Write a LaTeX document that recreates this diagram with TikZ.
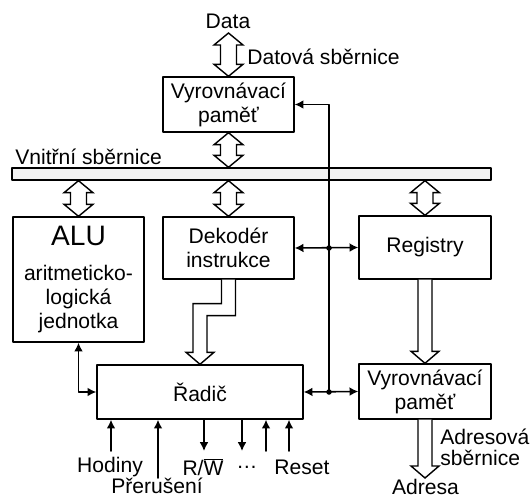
\documentclass[tikz,border=0pt]{standalone}
\usepackage{fontspec}
\setmainfont{Liberation Sans}
\usetikzlibrary{arrows.meta,calc}

\tikzset{
  blok/.style={draw,line width=0.8pt,align=center,inner sep=0pt},
  fat/.style={draw,line width=0.8pt,fill=white,line join=miter},
  sig/.style={line width=0.9pt},
  popis/.style={inner sep=0pt},
  >={Latex[length=5pt,width=5pt]}
}

% double fat arrow (bus), from upper point to lower point
\newcommand\dblfat[2]{%
  \draw[fat] let \p1=(#1), \p2=(#2) in
    (\x1,\y1) -- (\x1+0.29cm,\y1-0.24cm) -- (\x1+0.16cm,\y1-0.24cm)
    -- (\x1+0.16cm,\y2+0.24cm) -- (\x1+0.29cm,\y2+0.24cm) -- (\x1,\y2)
    -- (\x1-0.29cm,\y2+0.24cm) -- (\x1-0.16cm,\y2+0.24cm)
    -- (\x1-0.16cm,\y1-0.24cm) -- (\x1-0.29cm,\y1-0.24cm) -- cycle;}

% single fat arrow pointing down
\newcommand\downfat[2]{%
  \draw[fat] let \p1=(#1), \p2=(#2) in
    (\x1-0.14cm,\y1) -- (\x1-0.14cm,\y2+0.24cm) -- (\x1-0.28cm,\y2+0.24cm)
    -- (\x1,\y2) -- (\x1+0.28cm,\y2+0.24cm) -- (\x1+0.14cm,\y2+0.24cm)
    -- (\x1+0.14cm,\y1);}

\begin{document}
\begin{tikzpicture}[x=0.02cm,y=-0.02cm,line cap=round,line join=round,
  font=\fontsize{12}{13.6}\selectfont]
  \useasboundingbox (0,0) rectangle (531,497);

  % Blocks
  \node[blok,minimum width=2.62cm,minimum height=1.1cm] (datbuf) at (228.5,104.5)
    {Vyrovnávací\\paměť};
  \node[blok,minimum width=9.58cm,minimum height=0.24cm,fill=gray!10] (bus) at (251.5,174) {};
  \node[blok,minimum width=2.62cm,minimum height=2.5cm] (alu) at (78.5,279.5)
    {{\fontsize{16}{18}\selectfont ALU}\\[6pt]aritmeticko-\\logická\\jednotka};
  \node[blok,minimum width=2.62cm,minimum height=1.24cm] (dek) at (228.5,248)
    {Dekodér\\instrukce};
  \node[blok,minimum width=2.64cm,minimum height=1.26cm] (reg) at (425,247.5) {Registry};
  \node[blok,minimum width=4.12cm,minimum height=1.08cm] (radic) at (200,392) {Řadič};
  \node[blok,minimum width=2.64cm,minimum height=1.1cm] (adrbuf) at (425,391.5)
    {Vyrovnávací\\paměť};

  % Free ends
  \coordinate (dtip) at (228.5,33);
  \coordinate (atip) at (425,478);
  \coordinate (jt) at (329,392);
  \coordinate (hod) at (111,451);
  \coordinate (prer) at (158,478);
  \coordinate (rw) at (204,451);
  \coordinate (dal) at (242,451);
  \coordinate (vst) at (266,451);
  \coordinate (res) at (289,451);

  % Fat arrows
  \dblfat{dtip}{datbuf.north}
  \dblfat{datbuf.south}{bus.north}
  \dblfat{alu.north |- bus.south}{alu.north}
  \dblfat{dek.north |- bus.south}{dek.north}
  \dblfat{reg.north |- bus.south}{reg.north}
  \downfat{reg.south}{adrbuf.north}
  \downfat{adrbuf.south}{atip}
  \draw[fat] let \p1=(dek.south), \p2=(radic.north) in
    (\x1-0.14cm,\y1) -- (\x1-0.14cm,\y1-0.48cm) -- (\x2-0.14cm,\y1-0.48cm)
    -- (\x2-0.14cm,\y2+0.24cm) -- (\x2-0.28cm,\y2+0.24cm) -- (\x2,\y2)
    -- (\x2+0.28cm,\y2+0.24cm) -- (\x2+0.14cm,\y2+0.24cm)
    -- (\x2+0.14cm,\y1-0.72cm) -- (\x1+0.14cm,\y1-0.72cm) -- (\x1+0.14cm,\y1);

  % Control lines
  \draw[sig,->] (jt) |- (datbuf.east);
  \draw[sig,<->] (dek.east) -- (reg.west);
  \draw[sig,<->] (radic.east) -- (adrbuf.west);
  \draw[sig,<->] (alu.south) |- (radic.west);
  \fill (jt) circle (0.055cm);
  \fill (jt |- dek.east) circle (0.055cm);

  \draw[sig,->] (hod) -- (hod |- radic.south);
  \draw[sig,->] (prer) -- (prer |- radic.south);
  \draw[sig,->] (rw |- radic.south) -- (rw);
  \draw[sig,->] (dal |- radic.south) -- (dal);
  \draw[sig,->] (vst) -- (vst |- radic.south);
  \draw[sig,->] (res) -- (res |- radic.south);

  % Labels
  \node[popis] (data) at (228,21) {Data};
  \node[popis,anchor=west] (datsb) at (247,57) {Datová sběrnice};
  \node[popis,anchor=west] (vnsb) at (15,157) {Vnitřní sběrnice};
  \node[popis,anchor=west] (adrsb) at (440,437) {Adresová};
  \node[popis,anchor=west] (adrsb2) at (440,458) {sběrnice};
  \node[popis] (adresa) at (425.5,487) {Adresa};
  \node[popis] (lhod) at (110,467) {Hodiny};
  \node[popis] (lprer) at (157,486) {Přerušení};
  \node[popis] (lrw) at (203,467) {R/\ensuremath{\overline{\mbox{W}}}};
  \node[popis] (ldal) at (247,467) {…};
  \node[popis] (lres) at (302,467) {Reset};
\end{tikzpicture}
\end{document}
